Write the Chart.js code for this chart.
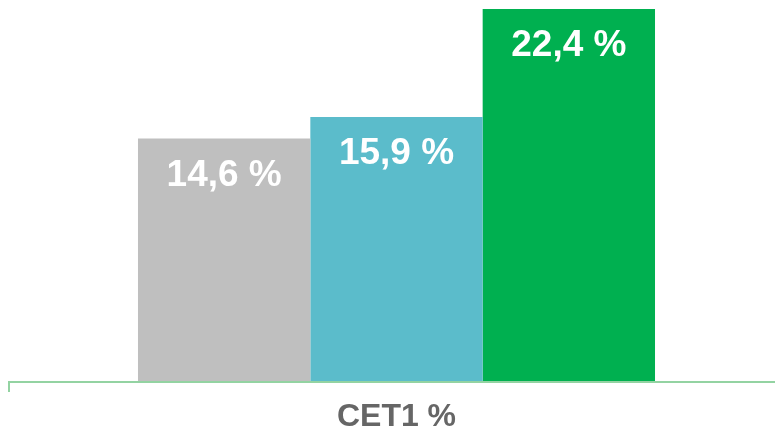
<!DOCTYPE html>
<html>
<head>
<meta charset="utf-8">
<script src="https://cdn.jsdelivr.net/npm/chart.js@4/dist/chart.umd.min.js"></script>
<style>
  html, body { margin: 0; padding: 0; background: #fff; }
  #wrap { width: 775px; height: 433px; }
</style>
</head>
<body>
<div id="wrap"><canvas id="myChart"></canvas></div>
<script>
const categories = ['CET1 %'];
const seriesNames = ['A', 'B', 'C'];
const seriesValues = [[14.6], [15.9], [22.4]];
const seriesColors = ['#bfbfbf', '#5bbccb', '#00b050'];

const fmt = v => v.toFixed(1).replace('.', ',') + ' %';

// ligne d'axe verte + petite graduation à gauche
const axisLine = {
  id: 'axisLine',
  beforeDatasetsDraw(chart) {
    const { ctx, chartArea } = chart;
    const y = chartArea.bottom + 1;
    ctx.save();
    ctx.strokeStyle = '#93d3a2';
    ctx.lineWidth = 2;
    ctx.beginPath();
    ctx.moveTo(9, y + 10);
    ctx.lineTo(9, y);
    ctx.lineTo(chart.width, y);
    ctx.stroke();
    ctx.restore();
  }
};

// étiquettes de valeurs dans les barres
const valueLabels = {
  id: 'valueLabels',
  afterDatasetsDraw(chart) {
    const { ctx } = chart;
    ctx.save();
    ctx.fillStyle = '#ffffff';
    ctx.font = 'bold 37px "Liberation Sans", Arial, sans-serif';
    ctx.textAlign = 'center';
    ctx.textBaseline = 'middle';
    chart.data.datasets.forEach((ds, i) => {
      chart.getDatasetMeta(i).data.forEach((bar, j) => {
        ctx.fillText(fmt(ds.data[j]), bar.x, bar.y + 37);
      });
    });
    ctx.restore();
  }
};

let myChart;

const setup = () => {
  const ctxt = document.getElementById('myChart').getContext('2d');
  myChart = new Chart(ctxt, {
    type: 'bar',
    data: {
      labels: categories,
      datasets: seriesNames.map((name, i) => ({
        label: name,
        data: seriesValues[i],
        backgroundColor: seriesColors[i],
        borderWidth: 0,
        barPercentage: 1,
        categoryPercentage: 0.683
      }))
    },
    options: {
      responsive: true,
      maintainAspectRatio: false,
      animation: false,
      layout: { padding: { left: 18, right: 0, top: 9, bottom: 0 } },
      plugins: { legend: { display: false }, tooltip: { enabled: false } },
      scales: {
        x: {
          grid: { display: false, drawTicks: false },
          border: { display: false },
          afterFit: (scale) => { scale.height = 52; },
          ticks: {
            padding: 17,
            color: '#666666',
            font: { family: '"Liberation Sans", Arial, sans-serif', size: 32, weight: 'bold' }
          }
        },
        y: {
          display: false,
          min: 0,
          max: 22.4
        }
      }
    },
    plugins: [axisLine, valueLabels]
  });
};

window.addEventListener('DOMContentLoaded', setup);
</script>
</body>
</html>
